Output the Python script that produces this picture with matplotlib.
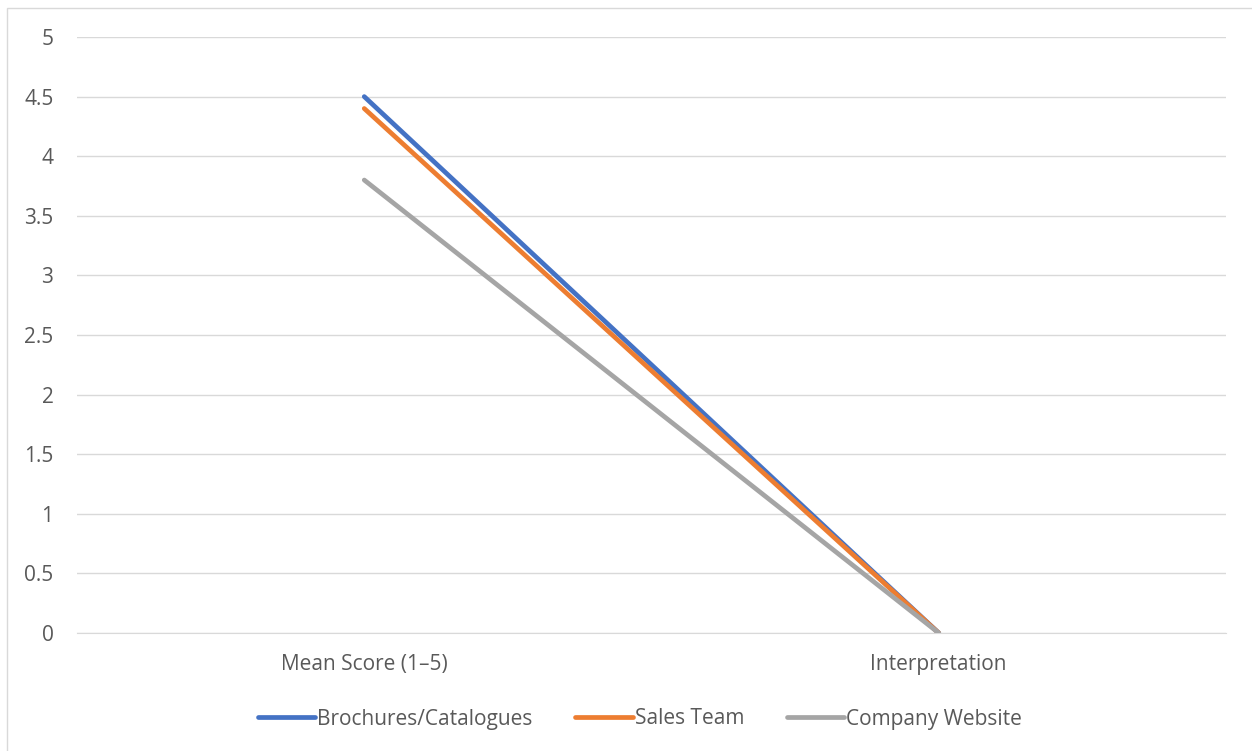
import matplotlib
matplotlib.use("Agg")
import matplotlib.pyplot as plt
from matplotlib.patches import Rectangle

categories = ["Mean Score (1–5)", "Interpretation"]
series_names = ["Brochures/Catalogues", "Sales Team", "Company Website"]
brochures = [4.5, 0]
sales_team = [4.4, 0]
company_website = [3.8, 0]
colors = ["#4472C4", "#ED7D31", "#A5A5A5"]
y_ticks = [0, 0.5, 1, 1.5, 2, 2.5, 3, 3.5, 4, 4.5, 5]
y_tick_labels = ["0", "0.5", "1", "1.5", "2", "2.5", "3", "3.5", "4", "4.5", "5"]

plt.rcParams["font.family"] = ["Open Sans", "DejaVu Sans"]
text_color = "#595959"
fs = 15

W, H = 1252, 751
fig = plt.figure(figsize=(W / 100, H / 100), dpi=100)
fig.patch.set_facecolor("white")

# chart frame (only top/left edges fall inside the image)
fig.add_artist(Rectangle((7 / W, -0.1), 1.2, 1 - 8 / H + 0.1, transform=fig.transFigure,
                         fill=False, edgecolor="#D9D9D9", linewidth=1.0))

left, right = 77 / W, 1226 / W
bottom, top = 1 - 633 / H, 1 - 37 / H
ax = fig.add_axes([left, bottom, right - left, top - bottom])

x = list(range(len(categories)))
for name, vals, c in zip(series_names, [brochures, sales_team, company_website], colors):
    ax.plot(x, vals, color=c, linewidth=3.4, solid_capstyle="round", label=name, zorder=3)

ax.set_xlim(-0.5, len(categories) - 0.5)
ax.set_ylim(0, 5)
ax.set_yticks(y_ticks)
ax.set_yticklabels(y_tick_labels)
ax.set_xticks(x)
ax.set_xticklabels(categories)
ax.grid(axis="y", color="#D9D9D9", linewidth=1.0, zorder=0)
ax.set_axisbelow(True)
for s in ax.spines.values():
    s.set_visible(False)
ax.spines["bottom"].set_visible(True)
ax.spines["bottom"].set_color("#D9D9D9")
ax.tick_params(axis="both", length=0, labelsize=fs, colors=text_color)
ax.tick_params(axis="y", pad=17)
ax.tick_params(axis="x", pad=15)
for lbl in ax.get_yticklabels():
    lbl.set_horizontalalignment("right")

leg = fig.legend(loc="center", bbox_to_anchor=(640 / W, 1 - 719 / H), ncol=3, frameon=False,
                 fontsize=fs, handlelength=2.75, handletextpad=0.1, columnspacing=2.05)
for t in leg.get_texts():
    t.set_color(text_color)

fig.savefig("out.png", dpi=100, facecolor="white")
